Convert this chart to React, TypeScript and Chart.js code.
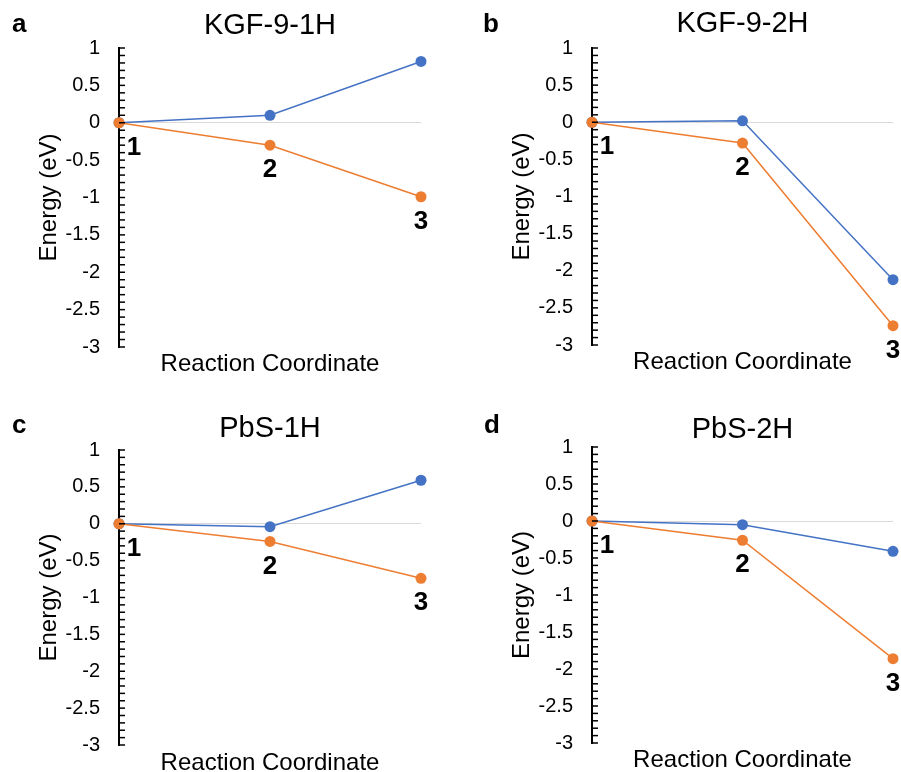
import React, { useEffect, useRef } from "react";
import { Chart, registerables } from "chart.js";

Chart.register(...registerables);

// ---- data ----
const steps = ["1", "2", "3"];
const panelTitles = ["KGF-9-1H", "KGF-9-2H", "PbS-1H", "PbS-2H"];
const panelLetters = ["a", "b", "c", "d"];

const blueKGF1H = [0, 0.1, 0.82];
const orangeKGF1H = [0, -0.3, -0.99];
const blueKGF2H = [0, 0.02, -2.12];
const orangeKGF2H = [0, -0.28, -2.74];
const bluePbS1H = [0, -0.04, 0.59];
const orangePbS1H = [0, -0.24, -0.74];
const bluePbS2H = [0, -0.05, -0.41];
const orangePbS2H = [0, -0.26, -1.86];

const blueSeries = [blueKGF1H, blueKGF2H, bluePbS1H, bluePbS2H];
const orangeSeries = [orangeKGF1H, orangeKGF2H, orangePbS1H, orangePbS2H];

const yMin = -3;
const yMax = 1;
const yStep = 0.5;
const minorStep = 0.1;
const xTitle = "Reaction Coordinate";
const yTitle = "Energy (eV)";

// ---- style / layout ----
const FONT = '"Liberation Sans", Arial, Helvetica, sans-serif';
const BLUE = "#4472C4";
const ORANGE = "#ED7D31";

const layouts = [
  { left: 0, top: 0, w: 450, h: 386, area: { l: 119, r: 421, t: 48, b: 347 }, titleC: 26, xTitleC: 364 },
  { left: 450, top: 0, w: 451, h: 386, area: { l: 142, r: 443, t: 48, b: 345 }, titleC: 24, xTitleC: 362 },
  { left: 0, top: 386, w: 450, h: 400, area: { l: 119, r: 421, t: 64, b: 359 }, titleC: 42.5, xTitleC: 377 },
  { left: 450, top: 386, w: 451, h: 400, area: { l: 142, r: 443, t: 61, b: 357 }, titleC: 44, xTitleC: 374 },
];
const letterPos = [
  { left: 12, top: 10 },
  { left: 483, top: 10 },
  { left: 12, top: 411 },
  { left: 484, top: 411 },
];

const TITLE_SIZE = 29;
const AXIS_TITLE_SIZE = 24;
const TICK_SIZE = 20;
const STEP_LABEL_SIZE = 26;
const Y_SCALE_W = 84.4;

const annotPlugin = {
  id: "annot",
  afterDatasetsDraw(chart: any) {
    const ctx = chart.ctx;
    const ys = chart.scales.y;
    ctx.save();
    // inner minor ticks
    ctx.strokeStyle = "#000";
    ctx.lineWidth = 1.5;
    const n = Math.round((yMax - yMin) / minorStep);
    for (let i = 0; i <= n; i++) {
      const v = yMin + i * minorStep;
      const py = ys.getPixelForValue(v);
      ctx.beginPath();
      ctx.moveTo(ys.right, py);
      ctx.lineTo(ys.right + 6, py);
      ctx.stroke();
    }
    // step labels under orange points
    const meta = chart.getDatasetMeta(1);
    ctx.fillStyle = "#000";
    ctx.font = `bold ${STEP_LABEL_SIZE}px ${FONT}`;
    ctx.textAlign = "center";
    ctx.textBaseline = "middle";
    meta.data.forEach((pt: any, i: number) => {
      const dx = i === 0 ? 15 : 0;
      ctx.fillText(steps[i], pt.x + dx, pt.y + 25);
    });
    ctx.restore();
  },
};

function Panel({ idx }: { idx: number }) {
  const ref = useRef<HTMLCanvasElement | null>(null);
  const L = layouts[idx];
  useEffect(() => {
    if (!ref.current) return;
    const titleLH = TITLE_SIZE * 1.2;
    const titlePadTop = L.titleC - titleLH / 2;
    const titlePadBottom = L.area.t - titlePadTop - titleLH;
    const axisLH = AXIS_TITLE_SIZE * 1.2;
    const xPadBottom = L.h - L.xTitleC - axisLH / 2;
    const chart = new Chart(ref.current, {
      type: "line",
      data: {
        labels: steps,
        datasets: [
          {
            data: blueSeries[idx],
            borderColor: BLUE,
            backgroundColor: BLUE,
            borderWidth: 1.5,
            pointRadius: 5.5,
            pointBorderWidth: 0,
            pointBackgroundColor: BLUE,
            tension: 0,
            clip: false,
            order: 1,
          },
          {
            data: orangeSeries[idx],
            borderColor: ORANGE,
            backgroundColor: ORANGE,
            borderWidth: 1.5,
            pointRadius: 5.5,
            pointBorderWidth: 0,
            pointBackgroundColor: ORANGE,
            tension: 0,
            clip: false,
            order: 0,
          },
        ],
      },
      options: {
        responsive: false,
        maintainAspectRatio: false,
        animation: false,
        events: [],
        layout: {
          padding: { left: L.area.l - Y_SCALE_W, right: L.w - L.area.r, top: 0, bottom: 0 },
        },
        plugins: {
          legend: { display: false },
          tooltip: { enabled: false },
          title: {
            display: true,
            text: panelTitles[idx],
            fullSize: false,
            color: "#000",
            font: { family: FONT, size: TITLE_SIZE, weight: "normal" },
            padding: { top: titlePadTop, bottom: titlePadBottom },
          },
        },
        scales: {
          x: {
            type: "category",
            offset: false,
            ticks: { display: false },
            grid: { display: false, drawTicks: false },
            border: { display: false },
            title: {
              display: true,
              text: xTitle,
              color: "#000",
              font: { family: FONT, size: AXIS_TITLE_SIZE },
              padding: { top: 0, bottom: xPadBottom },
            },
            afterFit: (s: any) => {
              s.height = L.h - L.area.b;
            },
          },
          y: {
            min: yMin,
            max: yMax,
            ticks: {
              stepSize: yStep,
              color: "#000",
              font: { family: FONT, size: TICK_SIZE },
              padding: 19,
              callback: (v: any) => String(v),
            },
            grid: {
              drawTicks: false,
              lineWidth: 1,
              color: (c: any) => (c.tick && c.tick.value === 0 ? "#d9d9d9" : "rgba(0,0,0,0)"),
            },
            border: { display: true, color: "#000", width: 2 },
            title: {
              display: true,
              text: yTitle,
              color: "#000",
              font: { family: FONT, size: AXIS_TITLE_SIZE },
              padding: { top: 0, bottom: 0 },
            },
            afterFit: (s: any) => {
              s.width = Y_SCALE_W;
            },
          },
        },
      },
      plugins: [annotPlugin],
    } as any);
    return () => chart.destroy();
  }, [idx]);
  return (
    <canvas
      ref={ref}
      width={L.w}
      height={L.h}
      style={{ position: "absolute", left: L.left, top: L.top, width: L.w, height: L.h }}
    />
  );
}

export default function App() {
  return (
    <div
      style={{
        position: "absolute",
        left: 0,
        top: 0,
        width: 901,
        height: 772,
        overflow: "hidden",
        background: "#fff",
        fontFamily: FONT,
      }}
    >
      {layouts.map((_, i) => (
        <Panel key={i} idx={i} />
      ))}
      {panelLetters.map((t, i) => (
        <div
          key={t}
          style={{
            position: "absolute",
            left: letterPos[i].left,
            top: letterPos[i].top,
            fontSize: 26,
            lineHeight: "26px",
            fontWeight: "bold",
            color: "#000",
            fontFamily: FONT,
          }}
        >
          {t}
        </div>
      ))}
    </div>
  );
}
